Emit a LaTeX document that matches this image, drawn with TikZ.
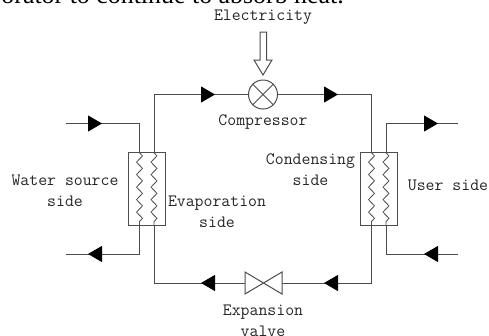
\documentclass[tikz,border=0pt]{standalone}
\usepackage{fontspec}
\setmainfont{Liberation Serif}
\usetikzlibrary{arrows.meta, decorations.pathmorphing}

\begin{document}
\begin{tikzpicture}
  [x=1pt,y=-1pt,
   every node/.style={inner sep=0,font=\ttfamily\fontsize{17.3}{21}\selectfont,text=black!85,align=center},
   pipe/.style={line width=1pt, black!70},
   flowhead/.style={-{Triangle[length=14pt,width=16pt,black]}, line width=1pt, black!70},
   coil/.style={line width=0.8pt, black!70, decorate, decoration={zigzag,segment length=12.5pt,amplitude=3pt}},
   shell/.style={draw=black!70, line width=1pt}]

  \clip (0,0) rectangle (489,335);

  \node[font=\rmfamily\fontsize{25.9}{24}\selectfont,text=black,anchor=base east] (caption) at (344,3) {orator to continue to absorb heat.};

  % heat exchangers
  \node[shell,minimum width=36.5pt,minimum height=72.5pt] (evap) at (146.75,189) {};
  \node[shell,minimum width=36.5pt,minimum height=72.5pt] (cond) at (379,189) {};

  % compressor and valve
  \node[shell,shape=circle,minimum size=29pt] (comp) at (263,94.5) {};
  \draw[shell] (comp.45) -- (comp.225);
  \draw[shell] (comp.135) -- (comp.315);
  \coordinate (valveL) at (245,283);
  \coordinate (valveR) at (282,283);
  \draw[shell] (245,272) -- (282,294) -- (282,272) -- (245,294) -- cycle;

  \coordinate (e1) at (139.5,152.75);
  \coordinate (e2) at (139.5,225.25);
  \coordinate (e3) at (154,152.75);
  \coordinate (e4) at (154,225.25);
  \coordinate (c1) at (371.5,152.75);
  \coordinate (c2) at (371.5,225.25);
  \coordinate (c3) at (386,152.75);
  \coordinate (c4) at (386,225.25);

  \draw[coil] (e1) -- (e2);
  \draw[coil] (e3) -- (e4);
  \draw[coil] (c1) -- (c2);
  \draw[coil] (c3) -- (c4);

  % refrigerant loop
  \draw[pipe] (e3) |- (comp.west);
  \draw[pipe] (comp.east) -| (c1);
  \draw[pipe] (c2) |- (valveR);
  \draw[pipe] (valveL) -| (e4);

  % water source and user side
  \coordinate (wIn) at (66,123.5);
  \coordinate (wOut) at (66,254);
  \coordinate (uOut) at (458,123.5);
  \coordinate (uIn) at (458,254);
  \draw[pipe] (wIn) -| (e1);
  \draw[pipe] (e2) |- (wOut);
  \draw[pipe] (c3) |- (uOut);
  \draw[pipe] (uIn) -| (c4);

  % flow arrows
  \draw[flowhead] (201,94.5) -- (215,94.5);
  \draw[flowhead] (324,94.5) -- (338,94.5);
  \draw[flowhead] (338,283) -- (324,283);
  \draw[flowhead] (215,283) -- (201,283);
  \draw[flowhead] (88,123.5) -- (102,123.5);
  \draw[flowhead] (102,254) -- (88,254);
  \draw[flowhead] (424,123.5) -- (438,123.5);
  \draw[flowhead] (438,254) -- (424,254);

  % electricity input
  \draw[shell,fill=white] (260,32) -- (266.5,32) -- (266.5,60) -- (272,60) -- (263,75) -- (254,60) -- (260,60) -- cycle;

  \node (elec) at (263,17) {Electricity};
  \node (compL) at (263,122) {Compressor};
  \node (condL) at (310.5,170) {Condensing\\side};
  \node (waterL) at (65,191) {Water source\\side};
  \node (evapL) at (217,211.5) {Evaporation\\side};
  \node (userL) at (448,185) {User side};
  \node (valveL2) at (263,320.5) {Expansion\\valve};
\end{tikzpicture}
\end{document}
